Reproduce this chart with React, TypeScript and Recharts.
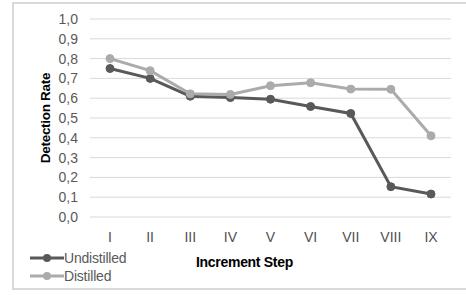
import { LineChart, Line, XAxis, YAxis, CartesianGrid, Legend } from 'recharts'

const steps = ['I', 'II', 'III', 'IV', 'V', 'VI', 'VII', 'VIII', 'IX']
const undistilled = [0.75, 0.7, 0.61, 0.603, 0.595, 0.558, 0.523, 0.153, 0.116]
const distilled = [0.8, 0.739, 0.622, 0.619, 0.663, 0.678, 0.646, 0.645, 0.41]
const yTicks = [0, 0.1, 0.2, 0.3, 0.4, 0.5, 0.6, 0.7, 0.8, 0.9, 1.0]

const data = steps.map((step, i) => ({
  step,
  undistilled: undistilled[i],
  distilled: distilled[i],
}))

const DARK = '#595959'
const LIGHT = '#ababab'
const FONT = '"Liberation Sans", Arial, sans-serif'

const legendItems = [
  { name: 'Undistilled', color: DARK },
  { name: 'Distilled', color: LIGHT },
]

const LegendContent = () => (
  <div style={{ fontFamily: FONT, fontSize: 14, color: DARK, lineHeight: '18px' }}>
    {legendItems.map((item) => (
      <div key={item.name} style={{ display: 'flex', alignItems: 'center', height: 18 }}>
        <svg width={34} height={10}>
          <line x1={0} y1={5} x2={34} y2={5} stroke={item.color} strokeWidth={3} />
          <circle cx={17} cy={5} r={4} fill={item.color} />
        </svg>
        <span style={{ letterSpacing: -0.2 }}>{item.name}</span>
      </div>
    ))}
  </div>
)

const App = () => {
  return (
    <div style={{ position: 'absolute', left: 0, top: 0, width: 466, height: 295, overflow: 'hidden', background: '#fff' }}>
      <div
        style={{
          position: 'absolute',
          left: 12,
          top: 2,
          width: 470,
          height: 284,
          border: '2px solid #d9d9d9',
        }}
      />
      <div style={{ position: 'absolute', left: 0, top: 0 }}>
        <LineChart width={466} height={295} data={data} margin={{ top: 19, right: 15, left: 30, bottom: 18 }}>
          <CartesianGrid vertical={false} stroke="#d9d9d9" strokeWidth={1} />
          <XAxis
            dataKey="step"
            axisLine={false}
            tickLine={false}
            tickSize={0}
            tickMargin={15}
            height={60}
            padding={{ left: 20, right: 20 }}
            tick={{ fill: '#505050', fontSize: 14, fontFamily: FONT }}
            label={{
              value: 'Increment Step',
              position: 'insideBottom',
              offset: 10,
              dx: -26,
              style: { fill: '#000', fontSize: 14, fontWeight: 'bold', fontFamily: FONT, letterSpacing: -0.3 },
            }}
          />
          <YAxis
            domain={[0, 1]}
            ticks={yTicks}
            interval={0}
            width={60}
            axisLine={false}
            tickLine={false}
            tickSize={0}
            tickMargin={12}
            tickFormatter={(v: number) => v.toFixed(1).replace('.', ',')}
            tick={{ fill: DARK, fontSize: 14, fontFamily: FONT }}
            label={{
              value: 'Detection Rate',
              angle: -90,
              position: 'insideLeft',
              offset: 15,
              style: { textAnchor: 'middle', fill: '#000', fontSize: 13.5, fontWeight: 'bold', fontFamily: FONT, letterSpacing: -0.3 },
            }}
          />
          <Legend
            layout="horizontal"
            align="center"
            verticalAlign="middle"
            wrapperStyle={{ left: 30, top: 249, width: 140 }}
            content={LegendContent}
          />
          <Line
            type="linear"
            dataKey="undistilled"
            name="Undistilled"
            stroke={DARK}
            strokeWidth={3}
            dot={{ r: 4, fill: DARK, stroke: DARK, strokeWidth: 1 }}
            activeDot={false}
            isAnimationActive={false}
          />
          <Line
            type="linear"
            dataKey="distilled"
            name="Distilled"
            stroke={LIGHT}
            strokeWidth={3}
            dot={{ r: 4, fill: LIGHT, stroke: LIGHT, strokeWidth: 1 }}
            activeDot={false}
            isAnimationActive={false}
          />
        </LineChart>
      </div>
    </div>
  )
}

export default App
